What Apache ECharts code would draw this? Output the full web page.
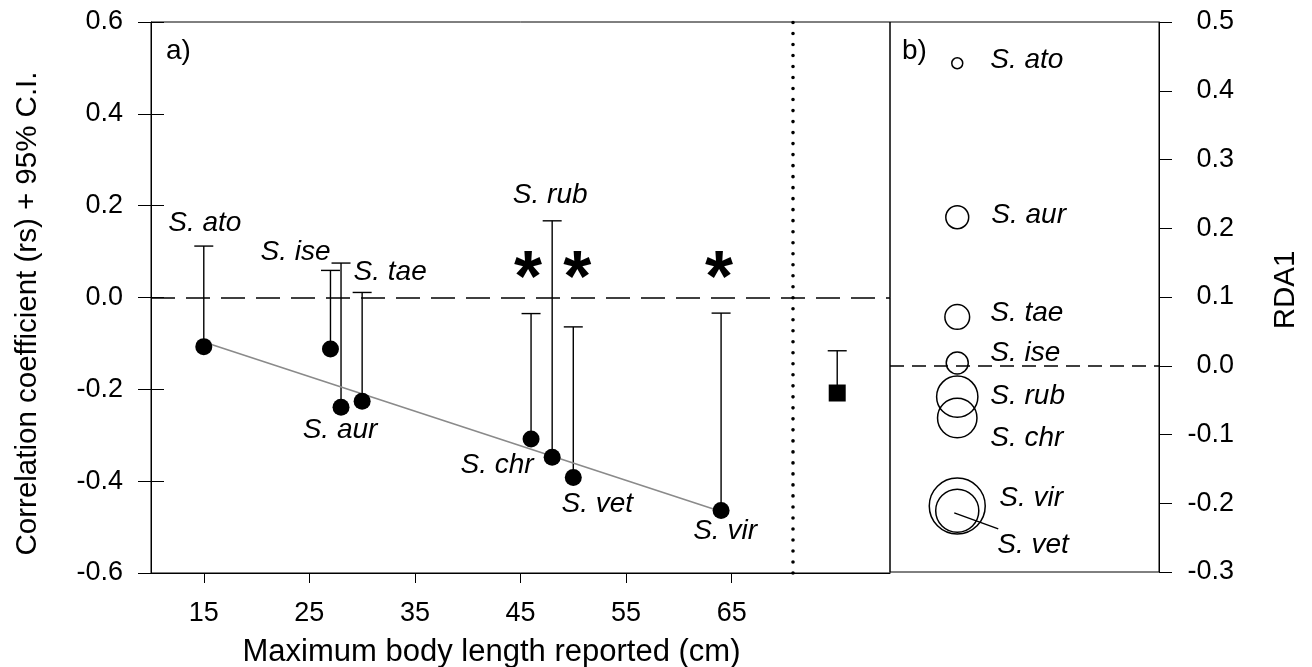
<!DOCTYPE html>
<html>
<head>
<meta charset="utf-8">
<script src="https://cdn.jsdelivr.net/npm/echarts@6.0.0/dist/echarts.min.js"></script>
<style>
html, body { margin: 0; padding: 0; background: #fff; }
#chart { width: 1312px; height: 667px; }
</style>
</head>
<body>
<div id="chart"></div>
<script>
// panel a: rs against reported body length
var species = ['S. ato', 'S. ise', 'S. aur', 'S. tae', 'S. chr', 'S. rub', 'S. vet', 'S. vir'];
var bodyLength = [15, 27, 28, 30, 46, 48, 50, 64];
var rs = [-0.107, -0.112, -0.239, -0.226, -0.308, -0.348, -0.392, -0.464];
var ciUpper = [0.112, 0.059, 0.075, 0.011, -0.035, 0.167, -0.064, -0.034];
var significant = ['S. chr', 'S. vet', 'S. vir'];
var trendLine = [[15, -0.097], [64, -0.466]];
var meanX = 75;
var meanRs = -0.208;
var meanUpper = -0.116;
var separatorX = 70.8;
var asteriskY = 0.069;
var xTicks = [15, 25, 35, 45, 55, 65];

// panel b: RDA1 scores, circle size follows body length
var rdaSpecies = ['S. ato', 'S. aur', 'S. tae', 'S. ise', 'S. rub', 'S. chr', 'S. vir', 'S. vet'];
var rdaLength = [15, 28, 30, 27, 48, 46, 64, 50];
var rda1 = [0.44, 0.216, 0.071, 0.004, -0.045, -0.076, -0.204, -0.211];
var rdaX = 1;

var FONT = "'Liberation Sans', Arial, sans-serif";

// label placement (pixels), anchored on the CI cap or on the dot
var labelAnchorA = { 'S. ato': 'cap', 'S. ise': 'cap', 'S. aur': 'dot', 'S. tae': 'cap',
  'S. chr': 'dot', 'S. rub': 'cap', 'S. vet': 'dot', 'S. vir': 'dot' };
var labelOffsetA = { 'S. ato': [1, -23], 'S. ise': [-35, -18], 'S. aur': [-1, 23], 'S. tae': [28, -20],
  'S. chr': [-34, 26], 'S. rub': [-2, -26], 'S. vet': [24, 27], 'S. vir': [4, 21] };
var starOffset = { 'S. chr': [-3, 15], 'S. vet': [4, 15], 'S. vir': [-2, 15] };
var labelOffsetB = { 'S. ato': [0, -3], 'S. aur': [1, -2], 'S. tae': [0, -4], 'S. ise': [0, -10],
  'S. rub': [0, 0], 'S. chr': [0, 20], 'S. vir': [9, -8], 'S. vet': [7, 34] };

function fmt(v) {
  return Math.abs(v) < 1e-9 ? '0.0' : v.toFixed(1);
}

var barData = bodyLength.map(function (x, i) { return [x, rs[i], ciUpper[i]]; });
barData.push([meanX, meanRs, meanUpper]);

var hidden = { color: 'transparent', opacity: 1 };

var chart = echarts.init(document.getElementById('chart'));

chart.setOption({
  animation: false,
  textStyle: { fontFamily: FONT, color: '#000' },
  grid: [
    { left: 151, top: 22, width: 739, height: 551, show: true, borderColor: '#000', borderWidth: 1, outerBoundsMode: 'none' },
    { left: 890, top: 22, width: 269, height: 550, show: true, borderColor: '#000', borderWidth: 1, outerBoundsMode: 'none' }
  ],
  xAxis: [
    {
      gridIndex: 0, type: 'value', min: 10, max: 80,
      axisLine: { show: true, onZero: false, lineStyle: { color: '#000', width: 1 } },
      axisTick: { show: true, customValues: xTicks, length: 10, lineStyle: { color: '#000' } },
      axisLabel: { customValues: xTicks, fontSize: 27, color: '#000', margin: 27, fontFamily: FONT },
      splitLine: { show: false },
      name: 'Maximum body length reported (cm)', nameLocation: 'middle', nameGap: 64,
      nameTextStyle: { fontSize: 31, color: '#000', fontFamily: FONT, padding: [0, 58, 0, 0] }
    },
    { gridIndex: 1, type: 'value', min: 0, max: 4, show: false, axisLine: { onZero: false } }
  ],
  yAxis: [
    {
      gridIndex: 0, type: 'value', position: 'left', min: -0.6, max: 0.6, interval: 0.2,
      axisLine: { show: true, onZero: false, lineStyle: { color: '#000', width: 1 } },
      axisTick: { show: true, length: 13, lineStyle: { color: '#000' } },
      axisLabel: { fontSize: 27, color: '#000', margin: 28, formatter: fmt, fontFamily: FONT },
      splitLine: { show: false },
      name: 'Correlation coefficient (rs) + 95% C.I.', nameLocation: 'middle', nameGap: 108,
      nameTextStyle: { fontSize: 29.5, color: '#000', fontFamily: FONT, padding: [0, 32, 0, 0] }
    },
    {
      gridIndex: 0, type: 'value', position: 'left', min: -0.6, max: 0.6, interval: 0.2,
      axisLine: { show: false, onZero: false },
      axisTick: { show: true, inside: true, length: 13, lineStyle: { color: '#000' } },
      axisLabel: { show: false },
      splitLine: { show: false }
    },
    {
      gridIndex: 1, type: 'value', position: 'right', min: -0.3, max: 0.5, interval: 0.1,
      axisLine: { show: true, onZero: false, lineStyle: { color: '#000', width: 1 } },
      axisTick: { show: true, length: 13, lineStyle: { color: '#000' } },
      axisLabel: { fontSize: 27, color: '#000', margin: 75, align: 'right', formatter: fmt, fontFamily: FONT },
      splitLine: { show: false },
      name: 'RDA1', nameLocation: 'middle', nameRotate: 90, nameGap: 112,
      nameTextStyle: { fontSize: 29.5, color: '#000', fontFamily: FONT, padding: [0, 0, 0, 14] }
    }
  ],
  series: [
    {
      // regression line, zero line and separator
      type: 'line', xAxisIndex: 0, yAxisIndex: 0,
      data: trendLine, symbol: 'none', silent: true,
      lineStyle: { color: '#8a8a8a', width: 1.6 },
      markLine: {
        silent: true, symbol: 'none', label: { show: false },
        data: [
          { yAxis: 0, lineStyle: { color: '#000', width: 1.5, type: [24, 11] } },
          { xAxis: separatorX, lineStyle: { color: '#000', width: 3.6, type: [0.01, 11], cap: 'round' } }
        ]
      }
    },
    {
      type: 'custom', xAxisIndex: 0, yAxisIndex: 0, silent: true,
      encode: { x: 0, y: [1, 2] },
      data: barData,
      renderItem: function (params, api) {
        var p = api.coord([api.value(0), api.value(1)]);
        var u = api.coord([api.value(0), api.value(2)]);
        var st = { stroke: '#000', lineWidth: 1.4 };
        return {
          type: 'group',
          children: [
            { type: 'line', shape: { x1: p[0], y1: p[1], x2: u[0], y2: u[1] }, style: st },
            { type: 'line', shape: { x1: u[0] - 9.5, y1: u[1], x2: u[0] + 9.5, y2: u[1] }, style: st }
          ]
        };
      }
    },
    {
      type: 'scatter', xAxisIndex: 0, yAxisIndex: 0, silent: true, z: 5,
      data: bodyLength.map(function (x, i) { return [x, rs[i]]; }),
      symbol: 'circle', symbolSize: 17, itemStyle: { color: '#000', opacity: 1 }
    },
    {
      type: 'scatter', xAxisIndex: 0, yAxisIndex: 0, silent: true, z: 5,
      data: [[meanX, meanRs]], symbol: 'rect', symbolSize: 17, itemStyle: { color: '#000', opacity: 1 }
    },
    {
      // species names, panel a
      type: 'scatter', xAxisIndex: 0, yAxisIndex: 0, silent: true, z: 6,
      symbolSize: 0.1, itemStyle: hidden,
      data: species.map(function (s, i) {
        return {
          value: [bodyLength[i], labelAnchorA[s] === 'cap' ? ciUpper[i] : rs[i]],
          label: { offset: labelOffsetA[s] }
        };
      }),
      label: {
        show: true, position: 'inside', color: '#000', fontSize: 28, fontStyle: 'italic', fontFamily: FONT,
        formatter: function (p) { return species[p.dataIndex]; }
      }
    },
    {
      // significance stars
      type: 'scatter', xAxisIndex: 0, yAxisIndex: 0, silent: true, z: 6,
      symbolSize: 0.1, itemStyle: hidden,
      data: significant.map(function (s) {
        return { value: [bodyLength[species.indexOf(s)], asteriskY], label: { offset: starOffset[s] } };
      }),
      label: {
        show: true, position: 'inside', color: '#000', fontSize: 72, fontWeight: 'bold', fontFamily: FONT,
        formatter: '*'
      }
    },
    {
      // RDA1 circles
      type: 'scatter', xAxisIndex: 1, yAxisIndex: 2, silent: true,
      data: rda1.map(function (v, i) { return [rdaX, v, rdaLength[i]]; }),
      symbol: 'circle',
      symbolSize: function (val) { return 0.918 * val[2] - 2.8; },
      itemStyle: { color: 'transparent', borderColor: '#000', borderWidth: 1.5, opacity: 1 },
      markLine: {
        silent: true, symbol: 'none', label: { show: false },
        data: [{ yAxis: 0, lineStyle: { color: '#000', width: 1.5, type: [14, 8] } }]
      }
    },
    {
      type: 'scatter', xAxisIndex: 1, yAxisIndex: 2, silent: true, z: 6,
      symbolSize: 0.1, itemStyle: hidden,
      data: rdaSpecies.map(function (s, i) {
        var o = labelOffsetB[s];
        return { value: [rdaX, rda1[i]], label: { offset: [33 + o[0], o[1]] } };
      }),
      label: {
        show: true, position: 'inside', align: 'left', color: '#000', fontSize: 28, fontStyle: 'italic', fontFamily: FONT,
        formatter: function (p) { return rdaSpecies[p.dataIndex]; }
      }
    }
  ]
});

// panel tags and the S. vet pointer
var vetIdx = rdaSpecies.indexOf('S. vet');
var vc = chart.convertToPixel({ xAxisIndex: 1, yAxisIndex: 2 }, [rdaX, rda1[vetIdx]]);
chart.setOption({
  graphic: [
    { type: 'text', left: 166, top: 37, style: { text: 'a)', font: '28px ' + FONT, fill: '#000' } },
    { type: 'text', left: 902, top: 37, style: { text: 'b)', font: '28px ' + FONT, fill: '#000' } },
    { type: 'line', shape: { x1: vc[0] - 3, y1: vc[1] + 2, x2: vc[0] + 41, y2: vc[1] + 18 },
      style: { stroke: '#000', lineWidth: 1.4 } }
  ]
});
</script>
</body>
</html>
